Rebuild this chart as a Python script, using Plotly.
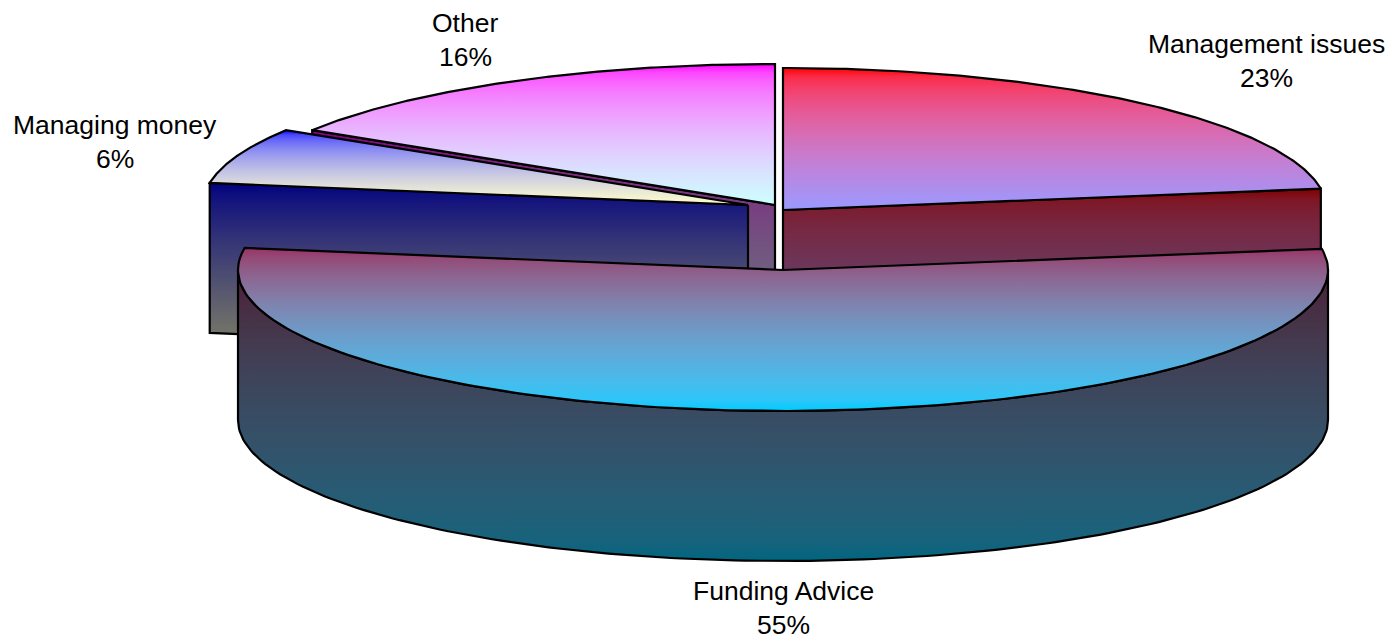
import numpy as np
import plotly.graph_objects as go

# Data
categories = ["Management issues", "Funding Advice", "Managing money", "Other"]
values = [22.6, 54.9, 6.4, 16.1]
shown_pct = [23, 55, 6, 16]

# Style / layout of the exploded 3D pie (in plot units, y downward)
WIDTH, HEIGHT = 1395, 639
DEPTH = 150
apex_x = [783, 783, 748, 775]
apex_y = [210, 270, 205, 205]
rad_x = [544, 545, 545, 546]
rad_y = [142, 141, 141, 141]
top_colors = [("#ff0000", "#9999ff"), ("#993366", "#00ccff"), ("#0000ff", "#ffffcc"), ("#ff00ff", "#ccffff")]
side_colors = [("#800000", "#4d4d80"), ("#4d1a33", "#006680"), ("#000080", "#808066"), ("#800080", "#668080")]
side_gamma = [2.2, 2.2, 1.2, 1.5]
label_x = [1266, 783, 115, 465]
label_y = [44, 591, 125, 23]
LINE_GAP = 34

bounds = np.cumsum([0] + values) / sum(values) * 2 * np.pi


def ell(i, t, dy=0.0):
    return apex_x[i] + rad_x[i] * np.sin(t), apex_y[i] - rad_y[i] * np.cos(t) + dy


def ramp(c0, c1, gamma=2.2, n=16):
    """Colour ramp blended in (near) linear light, as the original renderer does."""
    a = np.array([int(c0[j:j + 2], 16) for j in (1, 3, 5)]) / 255.0
    b = np.array([int(c1[j:j + 2], 16) for j in (1, 3, 5)]) / 255.0
    stops = []
    for k in range(n + 1):
        f = k / n
        mix = ((1 - f) * a ** gamma + f * b ** gamma) ** (1 / gamma)
        r, g, bl = (mix * 255).round().astype(int)
        stops.append([f, f"rgb({r},{g},{bl})"])
    return stops


def shape(fig, xs, ys, colors, start, stop, gamma=2.2):
    fig.add_trace(go.Scatter(
        x=list(xs), y=list(ys), mode="lines", fill="toself",
        line=dict(color="black", width=2.2), hoverinfo="skip", showlegend=False,
        fillgradient=dict(type="vertical", colorscale=ramp(*colors, gamma),
                          start=start, stop=stop),
    ))


def cut_face(fig, i, t):
    cx, cy = ell(i, t)
    xs = [apex_x[i], cx, cx, apex_x[i], apex_x[i]]
    ys = [apex_y[i], cy, cy + DEPTH, apex_y[i] + DEPTH, apex_y[i]]
    shape(fig, xs, ys, side_colors[i], min(cy, apex_y[i]), max(ys), side_gamma[i])


def top_face(fig, i):
    t = np.linspace(bounds[i], bounds[i + 1], 160)
    ex, ey = ell(i, t)
    xs = np.concatenate([[apex_x[i]], ex, [apex_x[i]]])
    ys = np.concatenate([[apex_y[i]], ey, [apex_y[i]]])
    if i == 1:
        start, stop = ey.min(), ey.max()
    else:
        start, stop = ey.min(), apex_y[i]
    shape(fig, xs, ys, top_colors[i], start, stop)


def rim(fig, i):
    t = np.linspace(np.pi / 2, 3 * np.pi / 2, 160)
    ex, ey = ell(i, t)
    lx, ly = ell(i, t[::-1], DEPTH)
    xs = np.concatenate([ex, lx, ex[:1]])
    ys = np.concatenate([ey, ly, ey[:1]])
    shape(fig, xs, ys, side_colors[i], apex_y[i], apex_y[i] + rad_y[i] + DEPTH, side_gamma[i])


fig = go.Figure()
# Back to front
cut_face(fig, 3, bounds[3])
top_face(fig, 3)
cut_face(fig, 0, bounds[1])
top_face(fig, 0)
cut_face(fig, 2, bounds[2])
top_face(fig, 2)
rim(fig, 1)
top_face(fig, 1)

for name, pct, x, y in zip(categories, shown_pct, label_x, label_y):
    for k, txt in enumerate((name, f"{pct}%")):
        fig.add_annotation(x=x, y=y + k * LINE_GAP, text=txt, showarrow=False,
                           xanchor="center", yanchor="middle", align="center",
                           font=dict(family="Liberation Sans, Arial, sans-serif", size=26.5, color="black"))

fig.update_xaxes(range=[0, WIDTH], visible=False, fixedrange=True)
fig.update_yaxes(range=[HEIGHT, 0], visible=False, fixedrange=True)
fig.update_layout(width=WIDTH, height=HEIGHT, margin=dict(l=0, r=0, t=0, b=0),
                  paper_bgcolor="white", plot_bgcolor="white", showlegend=False)
fig.write_html("out.html", config={"displayModeBar": False},
               post_script="document.body.style.margin='0';document.documentElement.style.overflow='hidden';")
